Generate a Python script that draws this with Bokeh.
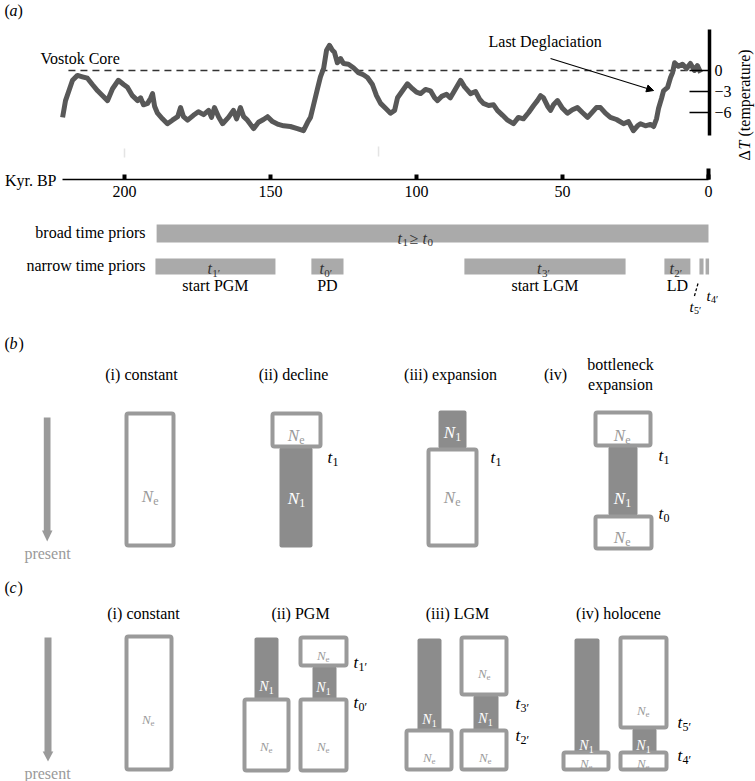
from bokeh.plotting import figure
from bokeh.models import Range1d, LinearAxis, FixedTicker, Arrow, NormalHead
from bokeh.core.properties import value
from bokeh.embed import file_html
from bokeh.resources import INLINE

SERIF = "Liberation Serif"

# ---------------- data: panel (a) Vostok core ----------------
vostok_kyr = [221.2, 220.2, 218.8, 217.8, 216.1, 214.4, 212.7, 211.0, 209.2, 207.5, 205.8, 204.1,
              202.1, 200.3, 199.0, 197.3, 195.5, 194.5, 193.5, 192.1, 191.1, 190.4, 189.7, 188.7,
              187.0, 185.3, 183.6, 181.8, 180.8, 179.8, 178.4, 176.4, 174.7, 172.9, 171.2, 170.2,
              169.2, 167.8, 166.4, 164.4, 162.7, 161.6, 160.3, 159.2, 157.9, 155.8, 154.1, 152.4,
              151.0, 149.3, 147.3, 145.5, 143.2, 140.8, 138.7, 137.3, 136.3, 135.3, 133.9, 132.9,
              131.8, 130.8, 129.8, 128.8, 128.1, 127.1, 126.0, 125.0, 123.3, 121.6, 119.9, 118.2,
              116.8, 115.1, 113.7, 112.3, 110.6, 108.9, 107.5, 106.5, 104.8, 103.1, 101.4, 100.0,
              98.6, 96.9, 95.2, 93.8, 92.8, 91.4, 89.7, 88.4, 86.6, 84.9, 83.6, 81.5, 79.8, 78.4,
              77.1, 75.3, 73.6, 72.3, 70.5, 68.8, 66.8, 65.1, 63.4, 61.6, 59.9, 58.6, 57.5, 56.5,
              55.1, 54.1, 53.1, 51.7, 50.0, 48.3, 46.6, 44.9, 43.2, 41.4, 39.7, 38.4, 37.0, 35.3,
              33.6, 31.5, 29.1, 27.4, 25.7, 24.3, 23.3, 21.6, 19.9, 18.8, 17.8, 17.1, 16.1, 15.4,
              14.0, 13.0, 12.3, 11.6, 10.3, 8.9, 7.5, 6.2, 4.8, 3.8, 2.7]
vostok_dT = [-6.7, -4.3, -2.6, -1.4, -0.7, -0.9, -1.1, -2.0, -2.9, -3.6, -4.3, -2.6,
             -1.4, -2.0, -2.4, -3.6, -4.3, -3.9, -4.9, -4.7, -4.0, -3.3, -5.1, -6.1,
             -6.9, -7.6, -7.1, -6.6, -5.3, -6.6, -7.1, -6.4, -5.9, -6.3, -5.7, -6.7,
             -5.3, -6.6, -7.6, -6.7, -5.7, -6.9, -5.3, -6.6, -7.1, -8.3, -7.4, -7.0,
             -6.6, -7.3, -7.7, -7.9, -8.0, -8.3, -8.6, -7.4, -6.7, -5.0, -2.6, -0.9,
             0.3, 2.9, 3.6, 2.9, 2.6, 1.1, 1.7, 1.0, 0.9, 0.4, -0.3, -0.6,
             -1.0, -2.0, -3.6, -4.7, -5.4, -6.1, -5.7, -3.9, -2.9, -1.9, -2.6, -3.1,
             -3.3, -2.7, -2.9, -3.9, -4.3, -3.7, -3.4, -3.9, -2.6, -1.4, -2.3, -3.3, -3.0, -4.1,
             -4.7, -5.0, -4.9, -5.7, -6.4, -7.1, -7.6, -6.7, -6.9, -6.0, -5.0, -4.3, -3.6, -3.9,
             -5.1, -5.7, -4.9, -4.3, -5.4, -6.1, -5.6, -5.3, -6.0, -6.7, -5.9, -5.3, -5.3, -6.1,
             -6.7, -7.0, -7.6, -7.3, -8.6, -7.9, -7.6, -7.9, -7.7, -8.0, -6.9, -5.4, -4.0, -2.9,
             -2.4, -1.0, -0.3, 1.1, 0.6, 0.9, 0.3, 1.0, 0.0, 0.7, -0.3]
kyr_ticks = [200, 150, 100, 50, 0]
dT_ticks = [0, -3, -6]
dT_tick_labels = {0: "0", -3: "\u22123", -6: "\u22126"}
reference_span = [219.2, 2.7]          # dashed 0-line extent (kyr)

# ---------------- data: time priors (kyr) ----------------
broad_prior = [189.0, 0.0]
narrow_left = [189.4, 136.0, 83.6, 15.1, 3.1, 1.0]
narrow_right = [148.3, 125.0, 28.4, 6.2, 1.7, -0.2]
narrow_sub = ["1\u2032", "0\u2032", "3\u2032", "2\u2032"]
narrow_names = ["start PGM", "PD", "start LGM", "LD"]

# ---------------- data: demographic schematics (drawing units) ----------------
outline_l = [126, 272, 428, 595, 595, 126, 244, 300, 300, 406, 461, 461, 563, 620, 620]
outline_r = [173, 320, 476, 650, 651, 171, 288, 346, 346, 451, 506, 506, 608, 666, 666]
outline_t = [413, 413, 449, 412, 516, 636, 699, 637, 699, 730, 637, 730, 752, 637, 752]
outline_b = [545, 446, 545, 445, 548, 769, 770, 665, 770, 769, 694, 769, 769, 727, 769]
filled_l = [279, 438, 608, 254, 312, 417, 473, 574, 632]
filled_r = [312, 466, 637, 278, 336, 441, 498, 599, 656]
filled_t = [447, 410, 446, 637, 666, 638, 695, 638, 728]
filled_b = [547, 448, 515, 699, 699, 730, 730, 752, 752]

GRAY_LINE = "#9a9a9a"
GRAY_FILL = "#8c8c8c"
BAR = "#aaaaaa"

p = figure(width=755, height=781, x_range=Range1d(0, 755), y_range=Range1d(781, 0),
           output_backend="svg", toolbar_location=None, x_axis_type=None, y_axis_type=None,
           min_border=0, outline_line_color=None, background_fill_color="white")
p.extra_x_ranges = {"kyr": Range1d(242.466, -16.096)}
p.extra_y_ranges = {"dT": Range1d(-101.571, 10.0)}


def txt(x, y, s, size=16, color="black", align="left", baseline="middle", style="normal",
        xr="default", yr="default", angle=0.0, xo=0, yo=0):
    p.text(x=[x], y=[y], text=[s], text_font=value(SERIF), text_font_size=f"{size}px",
           text_color=color, text_align=align, text_baseline=baseline, text_font_style=style,
           x_range_name=xr, y_range_name=yr, angle=angle, x_offset=xo, y_offset=yo)


def sub_label(x, y, main, sub, size, color, xr="default", center=True, wmain=0.5):
    sub_size = round(size * 0.68)
    w_main = wmain * size
    w_sub = 0.5 * sub_size * len(sub)
    x0 = -(w_main + w_sub) / 2 if center else 0
    txt(x, y, main, size, color, "left", "alphabetic", "italic", xr=xr, xo=x0)
    txt(x, y, sub, sub_size, color, "left", "alphabetic", "normal", xr=xr,
        xo=x0 + w_main, yo=size * 0.28)


# ---------------- panel (a) ----------------
txt(4, 10, "(", 16)
txt(9, 10, "a", 16, style="italic")
txt(17, 10, ")", 16)

# faint marks
p.segment(x0=[200.0, 113.0], y0=[148, 146], x1=[200.0, 113.0], y1=[157, 156],
          x_range_name="kyr", line_color="#e4e4e4", line_width=1.5)

p.line(x=reference_span, y=[0, 0], x_range_name="kyr", y_range_name="dT",
       line_color="#333333", line_width=1.6, line_dash="7 5")
p.line(x=vostok_kyr, y=vostok_dT, x_range_name="kyr", y_range_name="dT",
       line_color="#585858", line_width=5, line_join="round")

txt(40, 58, "Vostok Core", 16)
txt(488, 41, "Last Deglaciation", 16)
p.add_layout(Arrow(x_start=54.1, y_start=1.71, x_end=18.8, y_end=-2.86,
                   x_range_name="kyr", y_range_name="dT", line_width=1.1,
                   end=NormalHead(size=7, fill_color="black", line_color="black")))

xax = LinearAxis(x_range_name="kyr", fixed_location=179, ticker=FixedTicker(ticks=kyr_ticks),
                 bounds=(0, 221.3), major_tick_in=5, major_tick_out=0, major_tick_line_width=4,
                 axis_line_width=1.5, minor_tick_line_color=None, major_label_standoff=6,
                 major_label_text_font=SERIF, major_label_text_font_size="16px",
                 major_label_text_color="black")
p.add_layout(xax, "below")
p.segment(x0=[0.0], y0=[168], x1=[0.0], y1=[179], x_range_name="kyr",
          line_color="black", line_width=4)
txt(56, 180, "Kyr. BP", 16, align="right")

yax = LinearAxis(y_range_name="dT", fixed_location=709, ticker=FixedTicker(ticks=dT_ticks),
                 bounds=(-9.29, 5.86), major_tick_in=20, major_tick_out=0,
                 major_tick_line_width=1.5, axis_line_width=3.5, minor_tick_line_color=None,
                 major_label_standoff=5, major_label_overrides=dT_tick_labels,
                 major_label_text_font=SERIF, major_label_text_font_size="16px",
                 major_label_text_color="black")
p.add_layout(yax, "right")
# rotated axis title: "ΔT (temperature)"
txt(744, 160, "\u0394", 16, align="left", baseline="middle", angle=1.5708)
txt(744, 149, "T", 16, align="left", baseline="middle", style="italic", angle=1.5708)
txt(744, 136, "(temperature)", 16, align="left", baseline="middle", angle=1.5708)

# ---------------- time priors ----------------
txt(145, 232, "broad time priors", 16, align="right")
txt(145, 265, "narrow time priors", 16, align="right")
p.quad(left=[broad_prior[0]], right=[broad_prior[1]], top=[224], bottom=[242],
       x_range_name="kyr", fill_color=BAR, line_color=None)
p.quad(left=narrow_left, right=narrow_right, top=[258] * 6, bottom=[274] * 6,
       x_range_name="kyr", fill_color=BAR, line_color=None)
# t1 >= t0
bx = 100.3
txt(bx, 238, "t", 16, "#333333", "left", "alphabetic", "italic", xr="kyr", xo=-18)
txt(bx, 238, "1", 11, "#333333", "left", "alphabetic", xr="kyr", xo=-13, yo=4)
txt(bx, 238, "\u2265", 16, "#333333", "left", "alphabetic", xr="kyr", xo=-6)
txt(bx, 238, "t", 16, "#333333", "left", "alphabetic", "italic", xr="kyr", xo=7)
txt(bx, 238, "0", 11, "#333333", "left", "alphabetic", xr="kyr", xo=12, yo=4)
for i in range(4):
    cx = (narrow_left[i] + narrow_right[i]) / 2
    sub_label(cx, 268, "t", narrow_sub[i], 16, "#333333", xr="kyr", wmain=0.3)
    txt(cx, 285, narrow_names[i], 16, align="center", xr="kyr")
p.segment(x0=[697.5], y0=[283], x1=[693.5], y1=[297], line_color="black", line_width=1.3,
          line_dash="3 2")
sub_label(689, 306, "t", "5\u2032", 15, "black", center=False, wmain=0.3)
sub_label(706, 295, "t", "4\u2032", 15, "black", center=False, wmain=0.3)

# ---------------- panel (b) ----------------
txt(4, 343, "(", 16)
txt(9, 343, "b", 16, style="italic")
txt(18, 343, ")", 16)
titles_b = ["(i) constant", "(ii) decline", "(iii) expansion"]
titles_b_x = [141, 293, 450]
for t, x in zip(titles_b, titles_b_x):
    txt(x, 374, t, 16, align="center")
txt(555, 374, "(iv)", 16, align="center")
txt(620, 364, "bottleneck", 16, align="center")
txt(620, 384, "expansion", 16, align="center")

# present arrows (b) and (c)
p.quad(left=[43.3, 44.0], right=[50.0, 51.0], top=[417, 637], bottom=[531, 752],
       fill_color=GRAY_LINE, line_color=None)
p.patches(xs=[[41.5, 52.0, 46.7], [42.2, 52.8, 47.5]], ys=[[530, 530, 541], [751, 751, 761]],
          fill_color=GRAY_LINE, line_color=None)
txt(47, 553, "present", 16, "#9a9a9a", align="center")
txt(47, 773, "present", 16, "#9a9a9a", align="center")

# boxes
p.quad(left=filled_l, right=filled_r, top=filled_t, bottom=filled_b,
       fill_color=GRAY_FILL, line_color=None, border_radius=2)
p.quad(left=outline_l, right=outline_r, top=outline_t, bottom=outline_b,
       fill_color="white", line_color=GRAY_LINE, line_width=4, border_radius=2)

# labels inside boxes (b)
ne_b_x = [150, 296, 452, 622, 622]
ne_b_y = [496, 435, 497, 435, 537]
for x, y in zip(ne_b_x, ne_b_y):
    sub_label(x, y, "N", "e", 17, "#9a9a9a", wmain=0.67)
n1_b_x = [296, 452, 622]
n1_b_y = [498, 432, 498]
for x, y in zip(n1_b_x, n1_b_y):
    sub_label(x, y, "N", "1", 17, "white", wmain=0.67)
tb_x = [327, 490, 658, 658]
tb_y = [457, 457, 455, 513]
tb_s = ["1", "1", "1", "0"]
for x, y, s in zip(tb_x, tb_y, tb_s):
    sub_label(x, y, "t", s, 17, "black", center=False, wmain=0.3)

# ---------------- panel (c) ----------------
txt(4, 587, "(", 16)
txt(9, 587, "c", 16, style="italic")
txt(17, 587, ")", 16)
titles_c = ["(i) constant", "(ii) PGM", "(iii) LGM", "(iv) holocene"]
titles_c_x = [143, 300, 457, 618]
for t, x in zip(titles_c, titles_c_x):
    txt(x, 613, t, 16, align="center")

ne_c_x = [148, 266, 323, 323, 429, 484, 485, 586, 643, 643]
ne_c_y = [719, 746, 655, 746, 757, 673, 757, 763, 710, 763]
for x, y in zip(ne_c_x, ne_c_y):
    sub_label(x, y, "N", "e", 13, "#9a9a9a", wmain=0.67)
n1_c_x = [266, 323, 429, 485, 586, 643]
n1_c_y = [686, 687, 719, 718, 745, 745]
for x, y in zip(n1_c_x, n1_c_y):
    sub_label(x, y, "N", "1", 14, "white", wmain=0.67)
tc_x = [353, 353, 515, 515, 677, 677]
tc_y = [662, 702, 703, 735, 722, 755]
tc_s = ["1\u2032", "0\u2032", "3\u2032", "2\u2032", "5\u2032", "4\u2032"]
for x, y, s in zip(tc_x, tc_y, tc_s):
    sub_label(x, y, "t", s, 17, "black", center=False, wmain=0.3)

open("out.html", "w").write(file_html(p, INLINE))
